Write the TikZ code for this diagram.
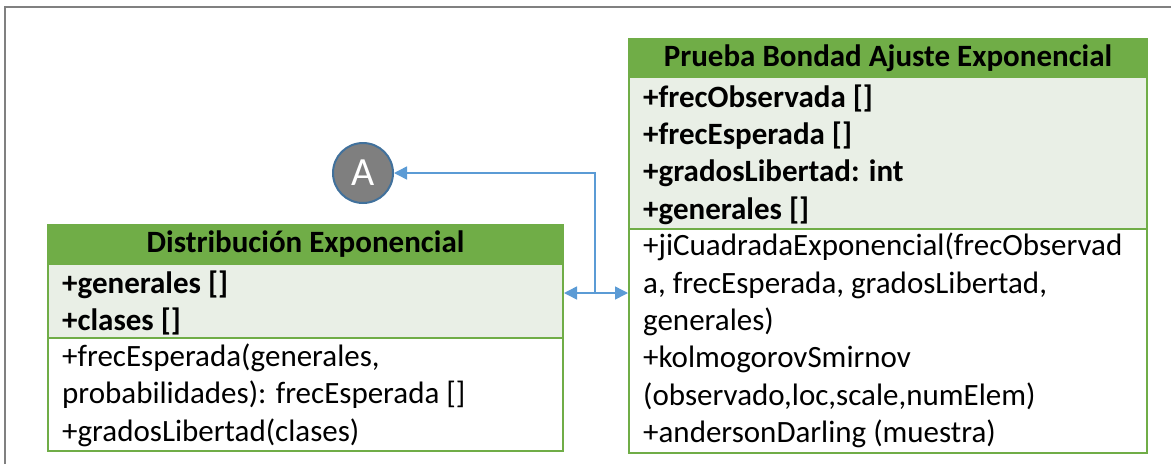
\documentclass[tikz,border=0pt]{standalone}
\usepackage{fontspec}
\setmainfont{Carlito}
\usetikzlibrary{arrows.meta}
\definecolor{umlgreen}{RGB}{112,173,71}
\definecolor{attrfill}{RGB}{233,239,230}
\definecolor{linkblue}{RGB}{91,155,213}
\definecolor{circfill}{RGB}{127,127,127}
\definecolor{circborder}{RGB}{65,113,156}
\definecolor{framegray}{RGB}{128,128,128}
\begin{document}
\begin{tikzpicture}[x=1pt,y=-1pt,
  compart/.style={draw=umlgreen, line width=2pt, anchor=north west, inner sep=0pt},
  titlebox/.style={compart, fill=umlgreen, text=black, font=\bfseries\fontsize{31}{37.5}\selectfont},
  attrbox/.style={compart, fill=attrfill},
  methbox/.style={compart, fill=white},
  row/.style={anchor=base west, inner sep=0pt, font=\fontsize{31}{37.5}\selectfont},
  brow/.style={anchor=base west, inner sep=0pt, font=\bfseries\fontsize{31}{37.5}\selectfont},
  conn/.style={draw=linkblue, line width=1.5pt}
]
\useasboundingbox (0,0) rectangle (1171,464);
\draw[framegray, line width=2.5pt] (5,464) -- (5,7) -- (1171,7);

% Left class
\node[attrbox, minimum width=515pt, minimum height=74pt] (da) at (47,263) {};
\node[methbox, minimum width=515pt, minimum height=113pt] (dm) at (47,337) {};
\node[titlebox, minimum width=515pt, minimum height=39pt] (dt) at (47,224) {Distribución Exponencial};
\node[brow] (da1) at (62,293) {+generales []};
\node[brow] (da2) at (62,330) {+clases []};
\node[row] (dm1) at (62,366) {+frecEsperada(generales,};
\node[row] (dm2) at (62,403.5) {probabilidades): frecEsperada []};
\node[row] (dm3) at (62,441) {+gradosLibertad(clases)};

% Right class
\node[attrbox, minimum width=518pt, minimum height=152pt] (ra) at (628,76) {};
\node[methbox, minimum width=518pt, minimum height=224pt] (rm) at (628,228) {};
\node[titlebox, minimum width=518pt, minimum height=38pt] (rt) at (628,38) {Prueba Bondad Ajuste Exponencial};
\node[brow] (ra1) at (643,107) {+frecObservada []};
\node[brow] (ra2) at (643,144) {+frecEsperada []};
\node[brow] (ra3) at (643,181) {+gradosLibertad: int};
\node[brow] (ra4) at (643,219) {+generales []};
\node[row] (rm1) at (643,255) {+jiCuadradaExponencial(frecObservad};
\node[row] (rm2) at (643,293) {a, frecEsperada, gradosLibertad,};
\node[row] (rm3) at (643,330) {generales)};
\node[row] (rm4) at (643,367) {+kolmogorovSmirnov};
\node[row] (rm5) at (643,405) {(observado,loc,scale,numElem)};
\node[row] (rm6) at (643,442) {+andersonDarling (muestra)};

% Connector A
\node[circle, minimum size=60pt, inner sep=0pt, fill=circfill, draw=circborder, line width=2pt,
      text=white, font=\fontsize{40}{40}\selectfont] (A) at (363,173) {A};

\coordinate (j) at (595,293);
\draw[conn, {Triangle[length=13pt,width=13pt]}-{Triangle[length=13pt,width=13pt]}] (da.east |- j) -- (rm.west |- j);
\draw[conn, -{Triangle[length=13pt,width=13pt]}] (j) |- (A);
\end{tikzpicture}
\end{document}
